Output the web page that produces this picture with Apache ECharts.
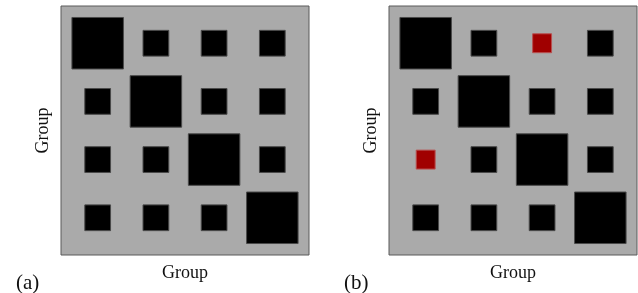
<!DOCTYPE html>
<html>
<head>
<meta charset="utf-8">
<script src="https://cdn.jsdelivr.net/npm/echarts@6/dist/echarts.min.js"></script>
<style>
  html, body { margin: 0; padding: 0; background: #fff; }
  #chart { width: 638px; height: 293px; }
</style>
</head>
<body>
<div id="chart"></div>
<script>
// group indices (rows = group, cols = group)
var groups = [0, 1, 2, 3];
// connection weights, read as relative square area
var weightsA = [
    [1.0, 0.25, 0.25, 0.25],
    [0.25, 1.0, 0.25, 0.25],
    [0.25, 0.25, 1.0, 0.25],
    [0.25, 0.25, 0.25, 1.0]
];
var weightsB = [
    [1.0, 0.25, 0.135, 0.25],
    [0.25, 1.0, 0.25, 0.25],
    [0.135, 0.25, 1.0, 0.25],
    [0.25, 0.25, 0.25, 1.0]
];
// cells that differ in panel (b), drawn in red
var changed = [[0, 2], [2, 0]];
var panelLabels = ['(a)', '(b)'];

function isChanged(r, c) {
    for (var i = 0; i < changed.length; i++) {
        if (changed[i][0] === r && changed[i][1] === c) return true;
    }
    return false;
}

// filter: null = all cells, true/false = only changed / unchanged
function cells(w, filter) {
    var out = [];
    groups.forEach(function (r) {
        groups.forEach(function (c) {
            if (filter === null || isChanged(r, c) === filter) out.push([c, r, w[r][c]]);
        });
    });
    return out;
}

var FULL = 51.5;
function sizeOf(d) { return Math.sqrt(d[2]) * FULL; }

var serif = '"Liberation Serif", "DejaVu Serif", serif';
var grids = [
    { left: 61, top: 6, width: 248, height: 249 },
    { left: 389, top: 6, width: 248, height: 249 }
];

var xAxes = [], yAxes = [];
grids.forEach(function (g, i) {
    g.show = true;
    g.backgroundColor = '#aaaaaa';
    g.borderColor = '#5a5a5a';
    g.borderWidth = 1;
    xAxes.push({
        gridIndex: i, type: 'value', min: -0.63, max: 3.63,
        axisLine: { show: false }, axisTick: { show: false },
        axisLabel: { show: false }, splitLine: { show: false },
        name: 'Group', nameLocation: 'middle', nameGap: 9,
        nameTextStyle: { fontFamily: serif, fontSize: 18, color: '#111' }
    });
    yAxes.push({
        gridIndex: i, type: 'value', min: -0.64, max: 3.64, inverse: true,
        axisLine: { show: false }, axisTick: { show: false },
        axisLabel: { show: false }, splitLine: { show: false },
        name: 'Group', nameLocation: 'middle', nameGap: 9,
        nameTextStyle: { fontFamily: serif, fontSize: 18, color: '#111' }
    });
});

var series = [
    {
        type: 'scatter', xAxisIndex: 0, yAxisIndex: 0,
        symbol: 'rect', symbolSize: sizeOf, data: cells(weightsA, null),
        itemStyle: { color: '#000', borderColor: '#4a4a4a', borderWidth: 1, opacity: 1 },
        silent: true
    },
    {
        type: 'scatter', xAxisIndex: 1, yAxisIndex: 1,
        symbol: 'rect', symbolSize: sizeOf, data: cells(weightsB, false),
        itemStyle: { color: '#000', borderColor: '#4a4a4a', borderWidth: 1, opacity: 1 },
        silent: true
    },
    {
        type: 'scatter', xAxisIndex: 1, yAxisIndex: 1,
        symbol: 'rect', symbolSize: sizeOf, data: cells(weightsB, true),
        itemStyle: { color: '#a00000', borderColor: '#b85050', borderWidth: 1, opacity: 1 },
        silent: true
    }
];

var chart = echarts.init(document.getElementById('chart'), null, { renderer: 'canvas' });
chart.setOption({
    animation: false,
    backgroundColor: '#fff',
    title: [
        { text: panelLabels[0], left: 11, top: 268,
          textStyle: { fontFamily: serif, fontSize: 21, fontWeight: 'normal', color: '#111' } },
        { text: panelLabels[1], left: 339, top: 268,
          textStyle: { fontFamily: serif, fontSize: 21, fontWeight: 'normal', color: '#111' } }
    ],
    grid: grids,
    xAxis: xAxes,
    yAxis: yAxes,
    series: series
});
</script>
</body>
</html>
